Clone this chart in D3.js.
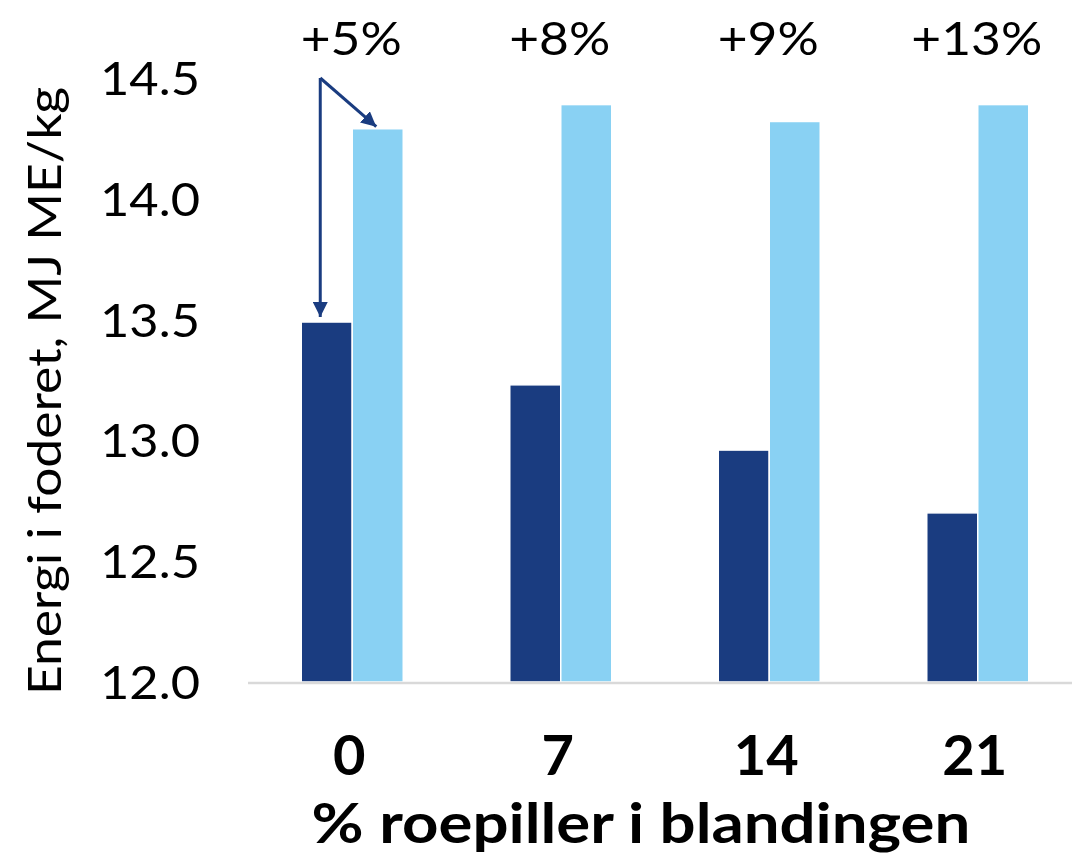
<!DOCTYPE html>
<html>
<head>
<meta charset="utf-8">
<script src="https://cdn.jsdelivr.net/npm/d3@7"></script>
<style>
  html, body { margin: 0; padding: 0; background: #fff; }
  svg { display: block; }
  text { font-family: Lato, "Noto Sans", sans-serif; fill: #000; }
</style>
</head>
<body>
<svg id="chart" width="1072" height="860"></svg>
<script>
// Energy content of the feed, per share of beet pellets in the mix
const categories = ["0", "7", "14", "21"];
const seriesKeys = ["before", "after"];
const beforeValues = [13.49, 13.23, 12.96, 12.70];
const afterValues = [14.29, 14.39, 14.32, 14.39];
const changeLabels = ["+5%", "+8%", "+9%", "+13%"];
const yTicks = [12.0, 12.5, 13.0, 13.5, 14.0, 14.5];

const colors = { before: "#1a3c80", after: "#89d1f3" };

const svg = d3.select("#chart");

// widen glyphs a little for a broader geometric look
function widen(sel, factor) {
  sel.each(function () {
    const w = this.getComputedTextLength();
    d3.select(this)
      .attr("textLength", w * factor)
      .attr("lengthAdjust", "spacingAndGlyphs");
  });
}

const x0 = d3.scaleBand().domain(categories).range([248, 1082]).padding(0);
const x1 = d3.scaleBand().domain(seriesKeys).range([-51, 51]).padding(0);
const y = d3.scaleLinear().domain([12, 14.5]).range([682, 78]);

const rows = categories.map((c, i) => ({
  cat: c,
  values: [
    { key: "before", value: beforeValues[i] },
    { key: "after", value: afterValues[i] }
  ]
}));

// bars
const groups = svg.append("g").selectAll("g")
  .data(rows).join("g")
  .attr("transform", d => `translate(${x0(d.cat) + x0.bandwidth() / 2},0)`);

groups.selectAll("rect")
  .data(d => d.values).join("rect")
  .attr("x", d => x1(d.key))
  .attr("width", x1.bandwidth())
  .attr("y", d => y(d.value))
  .attr("height", d => y(12) - y(d.value))
  .attr("fill", d => colors[d.key])
  .attr("stroke", "#fff")
  .attr("stroke-width", 1.5);

// baseline
svg.append("line")
  .attr("x1", 248).attr("x2", 1072)
  .attr("y1", y(12) + 1).attr("y2", y(12) + 1)
  .attr("stroke", "#d9d9d9").attr("stroke-width", 2.5);

// y axis labels
const yAxis = d3.axisLeft(y).tickValues(yTicks).tickFormat(d3.format(".1f")).tickSize(0).tickPadding(0);
const yg = svg.append("g").attr("transform", "translate(200,0)").call(yAxis);
yg.select(".domain").remove();
yg.selectAll("text")
  .attr("font-size", 46)
  .attr("dy", "0.36em")
  .style("font-family", "Lato, sans-serif")
  .attr("fill", "#000")
  .call(widen, 1.1);

// x axis labels
const xAxis = d3.axisBottom(x0).tickSize(0).tickPadding(0);
const xg = svg.append("g").attr("transform", "translate(-3,775)").call(xAxis);
xg.select(".domain").remove();
xg.selectAll("text")
  .attr("font-size", 56)
  .attr("font-weight", 700)
  .attr("dy", 0)
  .style("font-family", "Lato, sans-serif")
  .attr("fill", "#000");

// axis titles
svg.append("text")
  .attr("x", 641).attr("y", 843)
  .attr("text-anchor", "middle")
  .attr("font-size", 56)
  .attr("font-weight", 700)
  .text("% roepiller i blandingen")
  .call(widen, 1.135);

svg.append("text")
  .attr("transform", "translate(61,391) rotate(-90)")
  .attr("text-anchor", "middle")
  .attr("font-size", 46)
  .text("Energi i foderet, MJ ME/kg")
  .call(widen, 1.12);

// change labels above each pair
svg.append("g").selectAll("text")
  .data(categories).join("text")
  .attr("x", (c, i) => x0(c) + x0.bandwidth() / 2 - 1)
  .attr("y", 55)
  .attr("text-anchor", "middle")
  .attr("font-size", 46)
  .text((c, i) => changeLabels[i])
  .call(widen, 1.12);

// arrow annotation for the first pair
const arrowColor = "#1a3c80";
svg.append("defs").append("marker")
  .attr("id", "head")
  .attr("viewBox", "0 0 10 10")
  .attr("refX", 10).attr("refY", 5)
  .attr("markerWidth", 5).attr("markerHeight", 5)
  .attr("markerUnits", "strokeWidth")
  .attr("orient", "auto")
  .append("path")
  .attr("d", "M0,0 L10,5 L0,10 Z")
  .attr("fill", arrowColor);

const cx0 = x0(categories[0]) + x0.bandwidth() / 2;
const ax = cx0 + x1("before") + 19;
const ay = y(14.5);
svg.append("line")
  .attr("x1", ax).attr("y1", ay)
  .attr("x2", ax).attr("y2", y(beforeValues[0]) - 5)
  .attr("stroke", arrowColor).attr("stroke-width", 3)
  .attr("marker-end", "url(#head)");
svg.append("line")
  .attr("x1", ax).attr("y1", ay)
  .attr("x2", cx0 + x1("after") + 24).attr("y2", y(afterValues[0]) - 2)
  .attr("stroke", arrowColor).attr("stroke-width", 3)
  .attr("marker-end", "url(#head)");
</script>
</body>
</html>
